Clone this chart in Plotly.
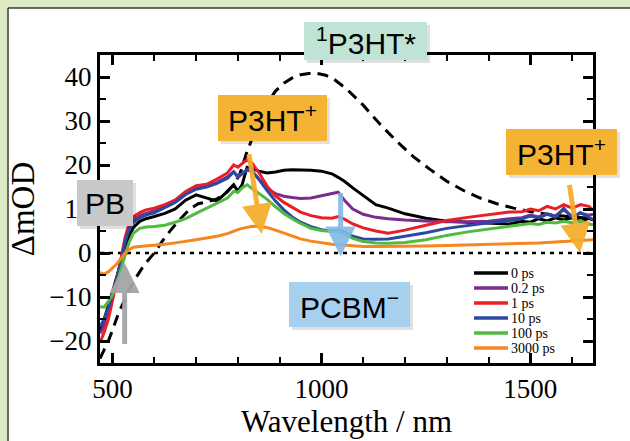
import plotly.graph_objects as go

# ---------------- data ----------------
wavelength = [470, 480, 490, 500, 510, 520, 530, 540, 550, 565, 580, 600, 625, 650, 675, 700,
              725, 750, 775, 790, 800, 810, 822, 835, 850, 870, 890, 910, 930, 950, 975, 1000,
              1025, 1040, 1055, 1075, 1100, 1130, 1160, 1200, 1250, 1300, 1350, 1400, 1450, 1480,
              1500, 1520, 1540, 1560, 1580, 1600, 1620, 1640, 1650]

od_0ps = [-17.5, -15, -12, -9, -5.5, -2, 1.5, 4, 5.8, 7.2, 7.8, 8.3, 9, 10, 12, 13.2,
          12.5, 11.8, 14, 15.5, 14, 15.5, 19.5, 19.2, 18.6, 18.2, 18.4, 18.8, 18.9, 18.9, 18.8, 18.6,
          18.0, 17.2, 16.3, 14.8, 13.0, 11.0, 10.2, 8.9, 7.9, 7.2, 7.0, 6.8, 6.6, 7.2,
          7.0, 7.8, 7.3, 8.0, 7.5, 8.0, 7.2, 7.9, 7.5]

od_02ps = [-18.3, -16.5, -13.5, -10, -6, -1.5, 3, 6, 7.5, 8.5, 9, 9.6, 10.8, 12, 13.8, 14.8,
           15.2, 16, 17.3, 18.5, 17.2, 18, 18.9, 18.5, 16.8, 14.6, 13.5, 12.9, 12.6, 12.4, 12.5, 13.0,
           13.6, 13.8, 12.0, 10.0, 8.8, 8.1, 7.8, 7.5, 7.3, 7.1, 7.1, 7.2, 7.8, 8.0,
           8.6, 8.2, 8.9, 8.4, 9.8, 8.3, 9.0, 8.6, 8.8]

od_1ps = [-20.3, -18, -15, -11, -6.5, -1.5, 3.5, 6.8, 8.2, 9.2, 9.8, 10.2, 11, 12, 14, 15.3,
          15.6, 16.8, 18.2, 20, 19.5, 20.3, 21.2, 20.3, 18.3, 15.2, 13.0, 11.5, 10.3, 9.3, 8.5, 8.0,
          7.9, 8.3, 7.7, 6.6, 5.7, 5.0, 4.5, 5.2, 6.3, 7.4, 8.1, 8.7, 9.3, 9.4,
          10.0, 9.6, 10.6, 10.0, 11.0, 10.2, 11.0, 10.6, 9.8]

od_10ps = [-16.8, -15, -12.5, -9.5, -6, -2, 2.5, 5.5, 7, 8, 8.6, 9.1, 10.3, 11.5, 13.3, 14.5,
           15, 15.8, 17, 18.4, 17.5, 18.2, 18.9, 18.5, 16.8, 14.2, 11.8, 9.8, 8.2, 7.0, 6.0, 5.3,
           5.0, 5.3, 4.8, 3.8, 3.2, 3.1, 3.2, 3.8, 4.6, 5.6, 6.3, 6.9, 7.4, 7.8,
           8.4, 8.0, 8.8, 8.2, 10.2, 8.0, 9.2, 8.2, 7.6]

od_100ps = [-12.2, -12.3, -11, -9.5, -7, -3.5, -0.5, 2.5, 4.5, 5.6, 5.9, 6, 6.3, 7, 7.8, 9,
            10.2, 11.3, 12.5, 14.0, 13.8, 14.8, 15.5, 14.6, 13.6, 12.2, 10.5, 9.0, 7.8, 6.7, 5.6, 5.1,
            4.9, 5.0, 4.4, 3.3, 2.6, 2.3, 2.2, 2.4, 3.0, 4.0, 4.8, 5.4, 6.0, 6.4,
            6.7, 6.5, 7.0, 6.8, 7.2, 6.9, 7.3, 6.6, 6.4]

od_3000ps = [-4.5, -4.8, -4.3, -3.5, -2.5, -1.3, 0, 0.8, 1.3, 1.5, 1.6, 1.8, 2.0, 2.3, 2.6, 3.0,
             3.4, 3.8, 4.4, 5.0, 5.3, 5.6, 5.9, 6.1, 6.0, 5.8, 5.2, 4.5, 3.8, 3.2, 2.7, 2.3,
             2.0, 1.9, 1.8, 1.6, 1.5, 1.5, 1.5, 1.5, 1.6, 1.7, 1.8, 1.9, 2.0, 2.1,
             2.2, 2.3, 2.4, 2.5, 2.6, 2.7, 2.8, 3.0, 3.0]

# singlet exciton reference spectrum (dashed)
singlet_wl = [470, 480, 490, 500, 515, 530, 550, 575, 600, 620, 640, 660, 685, 705, 726, 750,
              770, 790, 805, 820, 835, 850, 870, 890, 910, 930, 950, 970, 990, 1010, 1030, 1060,
              1100, 1140, 1180, 1220, 1260, 1300, 1340, 1380, 1420, 1460, 1500, 1550, 1600, 1650]
singlet_od = [-24, -22, -20, -17.5, -13.5, -10.5, -6.5, -2.8, 0, 2.8, 5.3, 7.5, 10.0, 11.2, 11.6, 12.3,
              13.5, 15.5, 18.0, 22.5, 26.5, 30, 34, 36.8, 38.6, 39.8, 40.5, 40.8, 40.8, 40.4, 39.5, 37.3,
              33.6, 29.3, 25.4, 21.9, 19.0, 16.3, 14.2, 12.5, 11.2, 10.2, 9.4, 8.7, 8.2, 7.9]

series_values = [od_0ps, od_02ps, od_1ps, od_10ps, od_100ps, od_3000ps]
series_labels = ["0 ps", "0.2 ps", "1 ps", "10 ps", "100 ps", "3000 ps"]
series_colors = ["#000000", "#7b2c8e", "#e81f27", "#2b48a3", "#4fbb3f", "#f7861f"]

x_ticks = [500, 1000, 1500]
y_ticks = [-20, -10, 0, 10, 20, 30, 40]

# ---------------- figure ----------------
W, H = 630, 441
L, R, T, B = 100, 593, 55, 363  # plot area in pixels


def pxx(p):
    return (p - L) / (R - L)


def pxy(p):
    return (B - p) / (B - T)


fig = go.Figure()

fig.add_trace(go.Scatter(x=singlet_wl, y=singlet_od, mode="lines", showlegend=False,
                         line=dict(color="black", width=3, dash="11px,7px")))

for vals, lab, col in zip(series_values, series_labels, series_colors):
    fig.add_trace(go.Scatter(x=wavelength, y=vals, mode="lines", name=lab, showlegend=False,
                             line=dict(color=col, width=3)))

serif = "Liberation Serif, Times New Roman, serif"
sans = "Liberation Sans, Arial, sans-serif"

axis_common = dict(showline=True, linewidth=3, linecolor="black", mirror="ticks",
                   ticks="inside", ticklen=10, tickwidth=2.5, tickcolor="black",
                   showgrid=False, zeroline=False,
                   tickfont=dict(family=serif, size=27, color="black"))

fig.update_xaxes(range=[470, 1650], tickvals=x_ticks,
                 minor=dict(dtick=100, tick0=0, ticks="inside", ticklen=6, tickwidth=2, tickcolor="black"),
                 title=dict(text="Wavelength / nm", font=dict(family=serif, size=31, color="black"), standoff=0),
                 **axis_common)
fig.update_yaxes(range=[-25, 45], tickvals=y_ticks,
                 minor=dict(dtick=5, tick0=0, ticks="inside", ticklen=6, tickwidth=2, tickcolor="black"),
                 title=dict(text="ΔmOD", font=dict(family=serif, size=33, color="black"), standoff=5),
                 **axis_common)

green = "#dcebc6"
shapes = []
# outer green frame (top and left strips) with dark panel border
shapes.append(dict(type="rect", xref="paper", yref="paper", layer="below",
                   x0=pxx(-20), x1=pxx(660), y0=pxy(8), y1=pxy(-20),
                   fillcolor=green, line=dict(width=0)))
shapes.append(dict(type="rect", xref="paper", yref="paper", layer="below",
                   x0=pxx(-20), x1=pxx(8), y0=pxy(470), y1=pxy(-20),
                   fillcolor=green, line=dict(width=0)))
shapes.append(dict(type="line", xref="paper", yref="paper", layer="below",
                   x0=pxx(8), x1=pxx(660), y0=pxy(8), y1=pxy(8),
                   line=dict(color="#3a3a3a", width=1.5)))
shapes.append(dict(type="line", xref="paper", yref="paper", layer="below",
                   x0=pxx(8), x1=pxx(8), y0=pxy(470), y1=pxy(8),
                   line=dict(color="#3a3a3a", width=1.5)))
# zero line
shapes.append(dict(type="line", xref="x", yref="y", layer="below", x0=470, x1=1650, y0=0, y1=0,
                   line=dict(color="black", width=2.5, dash="4px,5px")))

annotations = []

# manual legend
leg_top, leg_step = 273, 15
for i, (lab, col) in enumerate(zip(series_labels, series_colors)):
    yy = pxy(leg_top + i * leg_step)
    shapes.append(dict(type="line", xref="paper", yref="paper", x0=pxx(474), x1=pxx(508), y0=yy, y1=yy,
                       line=dict(color=col, width=3.5)))
    annotations.append(dict(text=lab, xref="paper", yref="paper", x=pxx(509), y=yy, xanchor="left",
                            yanchor="middle", showarrow=False,
                            font=dict(family=serif, size=14, color="black")))

# arrows (tip x,y ; tail ax, ay in data units)
arrows = [
    dict(x=529, y=-2.3, ax=529, ay=-21, color="rgba(165,165,165,0.95)"),
    dict(x=857, y=4.3, ax=826, ay=22.8, color="rgba(245,172,40,0.92)"),
    dict(x=1046, y=-0.8, ax=1046, ay=14, color="rgba(130,185,232,0.9)"),
    dict(x=1619, y=0.0, ax=1593, ay=15.8, color="rgba(245,172,40,0.92)"),
]
for a in arrows:
    annotations.append(dict(x=a["x"], y=a["y"], ax=a["ax"], ay=a["ay"], xref="x", yref="y",
                            axref="x", ayref="y", text="", showarrow=True, arrowhead=2,
                            arrowsize=1.2, arrowwidth=5, arrowcolor=a["color"], standoff=0))

# label boxes: (text, left, right, top, bottom, colour)
boxes = [
    ("<sup>1</sup>P3HT*", 304, 427, 22, 60, "#bfe4d5"),
    ("P3HT<sup>+</sup>", 218, 327, 95, 141, "#f5b334"),
    ("P3HT<sup>+</sup>", 506, 617, 129, 175, "#f5b334"),
    ("PB", 77, 133, 180, 226, "#c8c8c8"),
    ("PCBM<sup>−</sup>", 289, 410, 282, 327, "#a7d0ef"),
]
for txt, x0, x1, y0, y1, col in boxes:
    shapes.append(dict(type="rect", xref="paper", yref="paper", layer="above",
                       x0=pxx(x0 + 3), x1=pxx(x1 + 3), y0=pxy(y1 + 3), y1=pxy(y0 + 3),
                       fillcolor="rgba(0,0,0,0.12)", line=dict(width=0)))
    shapes.append(dict(type="rect", xref="paper", yref="paper", layer="above",
                       x0=pxx(x0), x1=pxx(x1), y0=pxy(y1), y1=pxy(y0),
                       fillcolor=col, line=dict(width=0)))
    annotations.append(dict(text=txt, xref="paper", yref="paper",
                            x=pxx((x0 + x1) / 2), y=pxy((y0 + y1) / 2),
                            xanchor="center", yanchor="middle", showarrow=False,
                            font=dict(family=sans, size=30, color="black")))

fig.update_layout(width=W, height=H, margin=dict(l=L, r=W - R, t=T, b=H - B),
                  paper_bgcolor="white", plot_bgcolor="white",
                  shapes=shapes, annotations=annotations, showlegend=False)

fig.write_html("out.html", config={"displayModeBar": False},
               post_script="document.body.style.margin='0';document.body.style.overflow='hidden';")
